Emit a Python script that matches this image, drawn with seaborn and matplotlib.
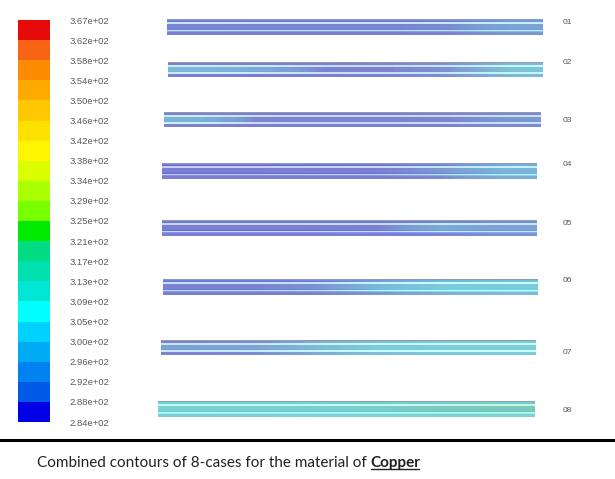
import numpy as np
import pandas as pd
import matplotlib
matplotlib.use("Agg")
import matplotlib.pyplot as plt
from matplotlib.colors import ListedColormap, BoundaryNorm, LinearSegmentedColormap, Normalize
from matplotlib.lines import Line2D
import seaborn as sns

# Temperature contour levels (K) of the legend, bottom to top
levels = [284, 288, 292, 296, 300, 305, 309, 313, 317, 321, 325,
          329, 334, 338, 342, 346, 350, 354, 358, 362, 367]

# Fill colour of each contour band, coldest first
band_colors = [
    "#0000e6", "#005ae6", "#0082f0", "#00aaf5", "#00d2ff",
    "#00ffff", "#00e6d2", "#00e1af", "#00dc82", "#00eb00",
    "#78ff00", "#aaff00", "#dcff00", "#fff500", "#ffe100",
    "#ffc800", "#ffaa00", "#ff8c00", "#f86414", "#e60a0a",
]

cases = ["01", "02", "03", "04", "05", "06", "07", "08"]

# Axial temperature profiles (K), six equal segments from inlet to outlet
annulus_temps = [
    [285, 285, 286, 286, 287, 290],
    [286, 286, 286, 287, 289, 300],
    [287, 286, 286, 286, 287, 288],
    [285, 285, 285, 286, 288, 296],
    [285, 285, 285, 286, 287, 289],
    [286, 286, 287, 290, 297, 300],
    [287, 288, 296, 302, 304, 305],
    [306, 306, 307, 307, 307, 307],
]
core_temps = [
    [287, 287, 287, 287, 288, 293],
    [299, 295, 287, 287, 289, 303],
    [298, 287, 287, 287, 287, 290],
    [285, 285, 286, 286, 290, 298],
    [286, 286, 286, 287, 295, 292],
    [287, 287, 289, 300, 305, 305],
    [292, 293, 300, 305, 306, 306],
    [308, 308, 309, 310, 313, 315],
]
wall_temps = [
    [296, 295, 295, 295, 296, 300],
    [300, 298, 292, 292, 295, 304],
    [300, 292, 290, 290, 291, 294],
    [288, 288, 289, 290, 294, 300],
    [290, 290, 290, 291, 298, 296],
    [292, 292, 294, 303, 307, 307],
    [296, 297, 303, 307, 308, 308],
    [310, 311, 312, 314, 318, 320],
]

# ---------------------------------------------------------------- layout
W, H = 615, 479
pipe_boxes = [  # x0, y0, x1, y1 in figure pixels
    (167, 19, 543, 35), (168, 62, 543, 77), (164, 112, 541, 127),
    (162, 163, 537, 179), (162, 220, 537, 236), (163, 279, 538, 295),
    (161, 340, 536, 355), (158, 401, 535, 417),
]
label_y = [23, 63, 121, 165, 223, 281, 353, 411]


def frac_box(x0, y0, x1, y1):
    return [x0 / W, 1 - y1 / H, (x1 - x0) / W, (y1 - y0) / H]


sns.set_theme(style="white")
plt.rcParams["font.family"] = ["Liberation Sans", "DejaVu Sans"]

fig = plt.figure(figsize=(W / 100, H / 100), dpi=100)
fig.patch.set_facecolor("white")

band_cmap = ListedColormap(band_colors)
band_norm = BoundaryNorm(levels, band_cmap.N)
# smooth version of the same palette for the shaded pipe walls and fluid
pipe_cmap = LinearSegmentedColormap.from_list(
    "fluent", list(zip(np.linspace(0, 1, len(band_colors)), band_colors)))
pipe_norm = Normalize(levels[0] + 2, levels[-1] - 2)

# ---------------------------------------------------------------- legend bar
cax = fig.add_axes(frac_box(18, 20, 50, 422))
mids = (np.array(levels[:-1]) + np.array(levels[1:])) / 2
band_frame = pd.DataFrame(mids[::-1].reshape(-1, 1))
sns.heatmap(band_frame, ax=cax, cmap=band_cmap, norm=band_norm, cbar=False,
            xticklabels=False, yticklabels=False)
cax.set_yticks(np.arange(len(levels)))
cax.set_yticklabels(["%.2e" % v for v in levels[::-1]], rotation=0)
cax.yaxis.tick_right()
cax.tick_params(axis="y", length=0, pad=14, labelsize=6.8, labelcolor="#5a5a5a")
cax.set_xticks([])
for s in cax.spines.values():
    s.set_visible(False)

# ---------------------------------------------------------------- pipes
layer_edges = [0, 3, 5, 10, 12, 15]
layer_kind = ["annulus", "wall", "core", "wall", "annulus"]
base_color = {"annulus": "#babcc8", "core": "#babcc8", "wall": "#ffffff"}
layer_alpha = {"annulus": 0.33, "core": 0.33, "wall": 0.22}

for i, case in enumerate(cases):
    ax = fig.add_axes(frac_box(*pipe_boxes[i]))
    profiles = {"annulus": annulus_temps[i], "core": core_temps[i],
                "wall": wall_temps[i]}
    for top, bot, kind in zip(layer_edges[:-1], layer_edges[1:], layer_kind):
        ax.axhspan(top, bot, color=base_color[kind], lw=0, zorder=0)
        ax.imshow(np.array([profiles[kind]], dtype=float), extent=[0, 1, bot, top],
                  aspect="auto", cmap=pipe_cmap, norm=pipe_norm,
                  interpolation="bilinear", alpha=layer_alpha[kind], zorder=1)
    ax.axhline(0.35, color="#9498ae", lw=0.7, zorder=2)
    ax.axhline(14.65, color="#9498ae", lw=0.7, zorder=2)
    ax.set_xlim(0, 1)
    ax.set_ylim(15, 0)
    ax.axis("off")
    fig.text(563 / W, 1 - label_y[i] / H, case, fontsize=6, color="#555555",
             ha="left", va="center")

# ---------------------------------------------------------------- caption
fig.add_artist(Line2D([0, 1], [1 - 440 / H] * 2, transform=fig.transFigure,
                      color="black", lw=2.2))
cap_y = 1 - 463 / H
cap_font = ["Lato", "DejaVu Sans"]
t1 = fig.text(37 / W, cap_y, "Combined contours of 8-cases for the material of ",
              fontsize=11, family=cap_font, color="#222222", va="center")
fig.canvas.draw()
r = fig.canvas.get_renderer()
bb1 = t1.get_window_extent(r)
t2 = fig.text(bb1.x1 / W, cap_y, "Copper", fontsize=11, family=cap_font,
              fontweight="bold", color="#222222", va="center")
fig.canvas.draw()
bb2 = t2.get_window_extent(r)
uy = (bb2.y0 + 1) / H
fig.add_artist(Line2D([bb2.x0 / W, (bb2.x1 - 1.5) / W], [uy, uy],
                      transform=fig.transFigure, color="#222222", lw=1.0))

fig.savefig("out.png", dpi=100, facecolor="white")
